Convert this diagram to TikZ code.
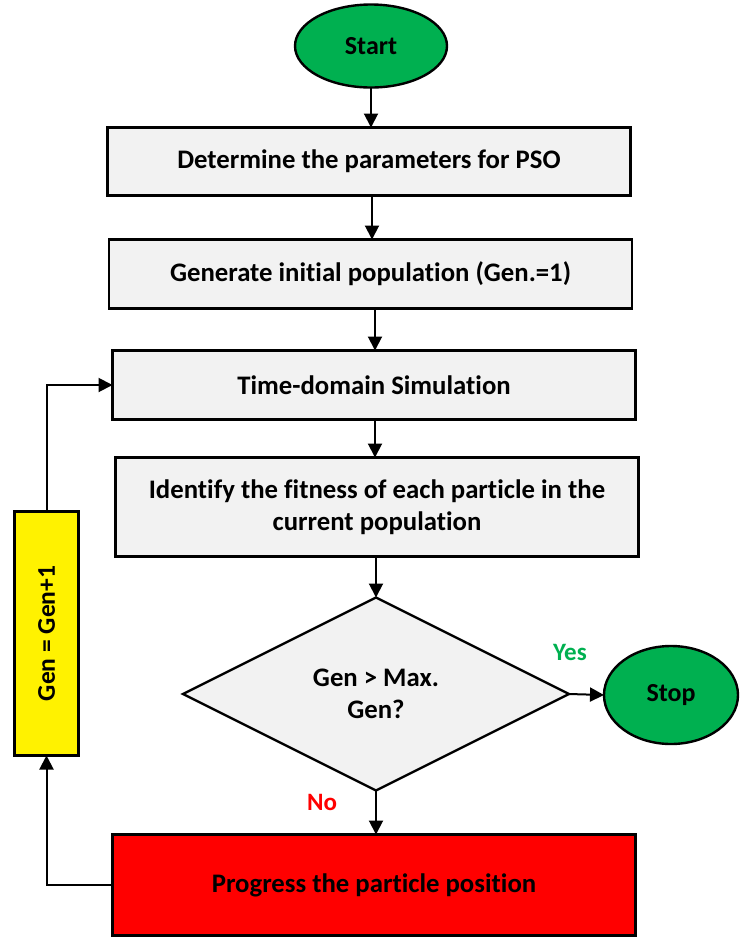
\documentclass[tikz,border=0pt]{standalone}
\usepackage{fontspec}
\setmainfont[Ligatures={NoCommon}]{Carlito}
\usetikzlibrary{shapes.geometric,arrows.meta}
\definecolor{ggreen}{HTML}{00B050}
\definecolor{bgray}{HTML}{F2F2F2}
\begin{document}
\begin{tikzpicture}[x=1pt,y=-1pt,
  every node/.style={font=\fontsize{26.75}{31.5}\selectfont\bfseries, inner sep=0pt, outer sep=0pt},
  procbox/.style={draw=black, line width=2.7pt, fill=bgray, minimum width=523pt, align=center},
  termnode/.style={ellipse, draw=black, line width=2.4pt, fill=ggreen, font=\fontsize{26}{31}\selectfont\bfseries},
  decnode/.style={diamond, aspect=2, draw=black, line width=2.4pt, fill=bgray, align=center, minimum width=386pt, minimum height=193pt},
  lbl/.style={font=\fontsize{25}{30}\selectfont\bfseries},
  arr/.style={line width=2pt, -{Triangle[length=14pt,width=14pt]}}
]
\useasboundingbox (0,0) rectangle (741,938);
\node[termnode, minimum width=152pt, minimum height=83pt] (start) at (371,46) {Start};
\node[procbox, minimum height=68pt] (b1) at (369,161.5) {Determine the parameters for PSO};
\node[procbox, minimum height=69pt] (b2) at (370.5,274) {Generate initial population (Gen.=1)};
\node[procbox, minimum height=69pt] (b3) at (374,385) {Time-domain Simulation};
\node[procbox, minimum height=99pt] (b4) at (377,507) {Identify the fitness of each particle in the\\current population};
\node[decnode] (dec) at (376,694) {Gen > Max.\\Gen?};
\node[termnode, minimum width=134pt, minimum height=98pt] (stop) at (671,695) {Stop};
\node[procbox, fill=red, minimum height=101pt] (prog) at (374,885) {Progress the particle position};
\node[draw=black, line width=2.7pt, fill=yellow, minimum width=64pt, minimum height=244pt] (inc) at (46.5,633.5) {};
\node[rotate=90, font=\fontsize{25.5}{30}\selectfont\bfseries] (inctext) at (inc.center) {Gen = Gen+1};
\node[lbl, text=ggreen] (yes) at (570,652) {Yes};
\node[lbl, text=red] (no) at (322,802) {No};

\draw[arr] (start.south) -- (start.south |- b1.north);
\draw[arr] (b1.south -| 372,0) -- (b2.north -| 372,0);
\draw[arr] (b2.south -| 375,0) -- (b3.north -| 375,0);
\draw[arr] (b3.south -| 375,0) -- (b4.north -| 375,0);
\draw[arr] (b4.south -| dec.north) -- (dec.north);
\draw[arr] (dec.south) -- (dec.south |- prog.north);
\draw[arr] (dec.east) -- (stop.west);
\draw[arr] (prog.west) -| (inc.south);
\draw[arr] (inc.north) |- (b3.west);
\end{tikzpicture}
\end{document}
